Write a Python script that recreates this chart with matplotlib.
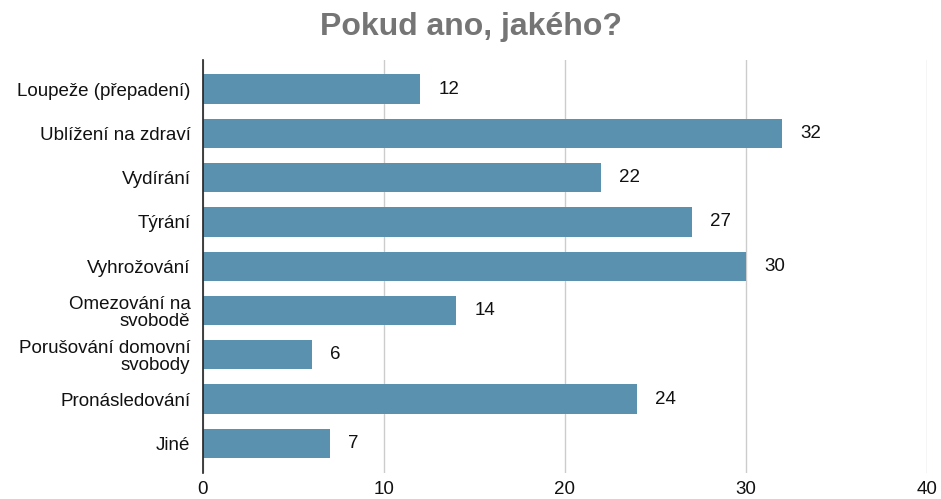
import matplotlib.pyplot as plt

categories = ["Loupeže (přepadení)", "Ublížení na zdraví", "Vydírání", "Týrání",
              "Vyhrožování", "Omezování na\nsvobodě", "Porušování domovní\nsvobody",
              "Pronásledování", "Jiné"]
values = [12, 32, 22, 27, 30, 14, 6, 24, 7]
xticks = [0, 10, 20, 30, 40]

bar_color = "#5a91af"

plt.rcParams["font.family"] = ["Liberation Sans", "DejaVu Sans"]

fig = plt.figure(figsize=(9.41, 4.99), dpi=100)
ax = fig.add_axes([0.2157, 0.052, 0.7693, 0.828])

y = range(len(categories))
ax.barh(y, values, height=0.66, color=bar_color, zorder=3)
for yi, v in zip(y, values):
    ax.text(v + 1.0, yi, str(v), va="center", ha="left", fontsize=13.5, color="#111111")

ax.set_ylim(len(categories) - 0.33, -0.66)
ax.set_xlim(0, 40)
ax.set_yticks(list(y))
ax.set_yticklabels(categories, fontsize=13.5, linespacing=1.05, color="#111111")
ax.set_xticks(xticks)
ax.set_xticklabels([str(t) for t in xticks], fontsize=13.5, color="#111111")
ax.tick_params(axis="both", length=0)
ax.tick_params(axis="y", pad=9)
ax.tick_params(axis="x", pad=6)

ax.grid(axis="x", color="#cccccc", linewidth=1, zorder=0)
for s in ["top", "right", "bottom"]:
    ax.spines[s].set_visible(False)
ax.spines["left"].set_color("#222222")
ax.spines["left"].set_linewidth(1.2)
ax.spines["left"].set_zorder(4)

fig.suptitle("Pokud ano, jakého?", fontsize=23, fontweight="bold", color="#757575", y=0.975)

plt.savefig("out.png", dpi=100)
